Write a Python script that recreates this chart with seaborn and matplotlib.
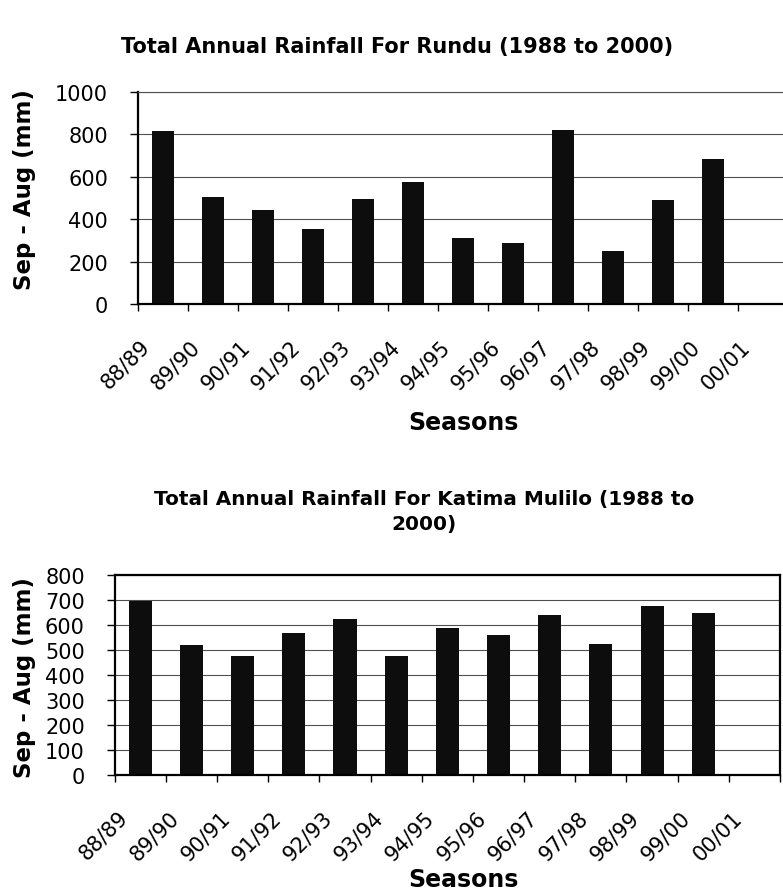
import numpy as np
import pandas as pd
import matplotlib
matplotlib.use("Agg")
import matplotlib.pyplot as plt
import matplotlib.transforms as mtransforms
import seaborn as sns

# Seasons on the x axis (the last one has no record yet)
seasons = ["88/89", "89/90", "90/91", "91/92", "92/93", "93/94", "94/95",
           "95/96", "96/97", "97/98", "98/99", "99/00", "00/01"]

# Total Sep-Aug rainfall (mm)
rundu_seasons = seasons[:12]
rundu_rain = [817, 503, 443, 352, 497, 574, 311, 289, 819, 249, 489, 684]

katima_seasons = seasons[:12]
katima_rain = [696, 520, 476, 568, 624, 474, 588, 558, 640, 522, 676, 648]

rundu_yticks = [0, 200, 400, 600, 800, 1000]
katima_yticks = [0, 100, 200, 300, 400, 500, 600, 700, 800]

sns.set_style("white")
plt.rcParams["font.family"] = ["DejaVu Sans"]
plt.rcParams["text.color"] = "black"
plt.rcParams["axes.labelcolor"] = "black"
plt.rcParams["xtick.color"] = "black"
plt.rcParams["ytick.color"] = "black"

W, H = 783, 895
fig = plt.figure(figsize=(W / 100, H / 100), dpi=100)


def px_axes(left, top, right, bottom):
    return fig.add_axes([left / W, 1 - bottom / H, (right - left) / W, (bottom - top) / H])


def draw_panel(ax, cats, vals, yticks, full_box):
    df = pd.DataFrame({"Season": cats, "Rain": vals})
    sns.barplot(data=df, x="Season", y="Rain", order=seasons, color="#0d0d0d",
                saturation=1, width=0.45, ax=ax, linewidth=0)
    ax.set_xlim(-0.5, len(seasons) - 0.5)
    ax.set_ylim(0, yticks[-1])
    ax.set_yticks(yticks)
    ax.set_yticklabels([str(t) for t in yticks])
    ax.set_axisbelow(True)
    ax.yaxis.grid(True, color="#505050", linewidth=0.8)
    ax.xaxis.grid(False)
    ax.set_xlabel("")
    ax.set_ylabel("")

    for side in ["left", "bottom"]:
        ax.spines[side].set_visible(True)
        ax.spines[side].set_color("black")
        ax.spines[side].set_linewidth(1.6)
    if full_box:
        for side in ["top", "right"]:
            ax.spines[side].set_visible(True)
            ax.spines[side].set_color("black")
            ax.spines[side].set_linewidth(1.6)
    else:
        ax.spines["top"].set_visible(True)
        ax.spines["top"].set_color("#505050")
        ax.spines["top"].set_linewidth(0.8)
        ax.spines["right"].set_visible(False)

    # tick marks sit between the categories
    ax.set_xticks(np.arange(-0.5, len(seasons), 1.0), minor=True)
    ax.tick_params(axis="x", which="major", length=0, pad=28, labelsize=15)
    ax.tick_params(axis="x", which="minor", length=5, width=1, color="black",
                   direction="out", bottom=True)
    ax.tick_params(axis="y", which="major", length=6, width=1, color="black",
                   direction="out", left=True, pad=15.5, labelsize=15)

    shift = mtransforms.ScaledTranslation(-16 / 100, 0, fig.dpi_scale_trans)
    for lab in ax.get_xticklabels():
        lab.set_rotation(45)
        lab.set_ha("right")
        lab.set_va("center")
        lab.set_rotation_mode("anchor")
        lab.set_transform(lab.get_transform() + shift)


ax1 = px_axes(138, 93, 788, 305)
draw_panel(ax1, rundu_seasons, rundu_rain, rundu_yticks, full_box=False)

ax2 = px_axes(114.7, 575.7, 780, 776)
draw_panel(ax2, katima_seasons, katima_rain, katima_yticks, full_box=True)

# titles and axis names
fig.text(397 / W, 1 - 47 / H, "Total Annual Rainfall For Rundu (1988 to 2000)",
         ha="center", va="center", fontsize=15, fontweight="bold")
fig.text(424 / W, 1 - 512 / H, "Total Annual Rainfall For Katima Mulilo (1988 to\n2000)",
         ha="center", va="center", fontsize=14.4, fontweight="bold",
         linespacing=1.4)

fig.text(25 / W, 1 - 190 / H, "Sep - Aug (mm)", rotation=90, ha="center", va="center",
         fontsize=16.5, fontweight="bold")
fig.text(25 / W, 1 - 678 / H, "Sep - Aug (mm)", rotation=90, ha="center", va="center",
         fontsize=16.5, fontweight="bold")

fig.text(463 / W, 1 - 423 / H, "Seasons", ha="center", va="center",
         fontsize=17, fontweight="bold")
fig.text(463 / W, 1 - 880 / H, "Seasons", ha="center", va="center",
         fontsize=17, fontweight="bold")

fig.savefig("out.png", dpi=100, facecolor="white")
